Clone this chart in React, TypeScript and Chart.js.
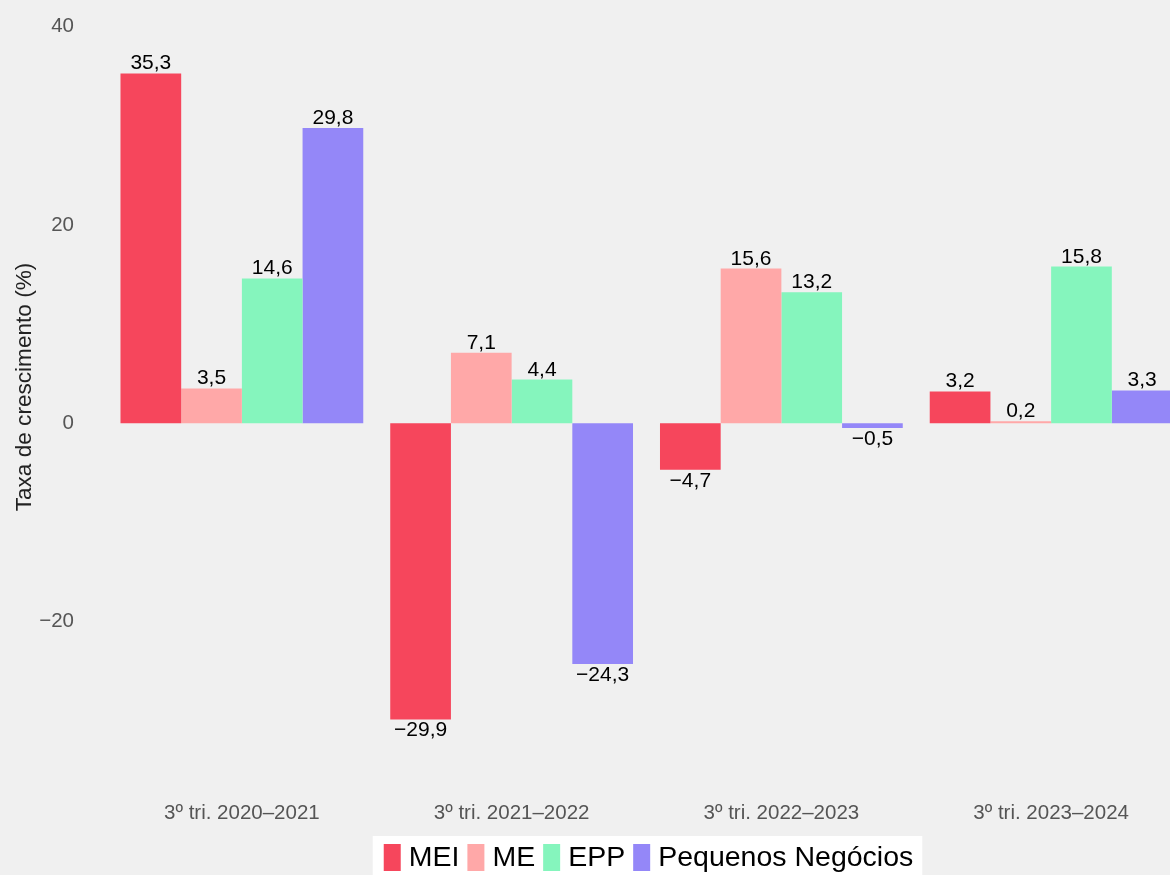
import React, { useEffect, useRef } from 'react';
import { Chart, registerables } from 'chart.js';

Chart.register(...registerables);

const FONT = "'Liberation Sans', Arial, Helvetica, sans-serif";

const categories = ['3º tri. 2020–2021', '3º tri. 2021–2022', '3º tri. 2022–2023', '3º tri. 2023–2024'];
const seriesNames = ['MEI', 'ME', 'EPP', 'Pequenos Negócios'];
const meiValues = [35.3, -29.9, -4.7, 3.2];
const meValues = [3.5, 7.1, 15.6, 0.2];
const eppValues = [14.6, 4.4, 13.2, 15.8];
const pequenosValues = [29.8, -24.3, -0.5, 3.3];
const seriesColors = ['#F6465C', '#FFA8A8', '#85F5BD', '#9487F8'];
const yTickValues = [-20, 0, 20, 40];
const yTitle = 'Taxa de crescimento (%)';

const fmt = (v: number) => v.toFixed(1).replace('.', ',').replace('-', '\u2212');
const fmtTick = (v: number) => String(v).replace('-', '\u2212');

const bgPlugin = {
  id: 'bg',
  beforeDraw(chart: any) {
    const { ctx, width, height } = chart;
    ctx.save();
    ctx.fillStyle = '#F0F0F0';
    ctx.fillRect(0, 0, width, height);
    ctx.restore();
  },
};

const labelPlugin = {
  id: 'valueLabels',
  afterDatasetsDraw(chart: any) {
    const { ctx } = chart;
    const size = 21;
    ctx.save();
    ctx.font = `${size}px ${FONT}`;
    ctx.fillStyle = '#000';
    ctx.textAlign = 'center';
    ctx.textBaseline = 'alphabetic';
    chart.data.datasets.forEach((ds: any, di: number) => {
      const meta = chart.getDatasetMeta(di);
      meta.data.forEach((bar: any, i: number) => {
        const v = ds.data[i] as number;
        const y = v >= 0 ? bar.y - 4 : bar.y + 2 + size * 0.716;
        ctx.fillText(fmt(v), bar.x, y);
      });
    });
    ctx.restore();
  },
};

const legendPlugin = {
  id: 'customLegend',
  afterDraw(chart: any) {
    const { ctx } = chart;
    const size = 28.5;
    ctx.save();
    ctx.font = `${size}px ${FONT}`;
    const boxW = 17;
    const boxH = 27;
    const gapBoxText = 8;
    const gapItems = 8;
    const padL = 11;
    const padR = 9;
    const widths = seriesNames.map((n) => ctx.measureText(n).width);
    let total = padL + padR;
    widths.forEach((w, i) => {
      total += boxW + gapBoxText + w + (i > 0 ? gapItems : 0);
    });
    const center = 647.5;
    const left = center - total / 2;
    const top = 836;
    ctx.fillStyle = '#FFFFFF';
    ctx.fillRect(left, top, total, 60);
    let x = left + padL;
    const cy = 857.5;
    ctx.textBaseline = 'middle';
    ctx.textAlign = 'left';
    seriesNames.forEach((n, i) => {
      ctx.fillStyle = seriesColors[i];
      ctx.fillRect(x, cy - boxH / 2, boxW, boxH);
      x += boxW + gapBoxText;
      ctx.fillStyle = '#000';
      ctx.fillText(n, x, cy + 1);
      x += widths[i] + gapItems;
    });
    ctx.restore();
  },
};

export default function App() {
  const ref = useRef<HTMLCanvasElement | null>(null);

  useEffect(() => {
    if (!ref.current) return;
    Chart.defaults.font.family = FONT;
    const values = [meiValues, meValues, eppValues, pequenosValues];
    const chart = new Chart(ref.current, {
      type: 'bar',
      data: {
        labels: categories,
        datasets: seriesNames.map((name, i) => ({
          label: name,
          data: values[i],
          backgroundColor: seriesColors[i],
          borderWidth: 0,
          barPercentage: 1,
          categoryPercentage: 0.9,
        })),
      },
      options: {
        responsive: false,
        animation: false,
        devicePixelRatio: 1,
        layout: { padding: { top: 7, right: 4, left: 0, bottom: 0 } },
        plugins: {
          legend: { display: false },
          tooltip: { enabled: false },
        },
        scales: {
          x: {
            type: 'category',
            offset: true,
            grid: { display: false, drawTicks: false },
            border: { display: false },
            ticks: {
              color: '#555555',
              font: { size: 20.5, family: FONT },
              padding: 34,
              maxRotation: 0,
              autoSkip: false,
            },
            afterFit: (s: any) => {
              s.height = 108;
              s.paddingLeft = 0;
              s.paddingRight = 0;
            },
          },
          y: {
            min: -34.7,
            max: 42,
            grid: { display: false, drawTicks: false },
            border: { display: false },
            afterBuildTicks: (s: any) => {
              s.ticks = yTickValues.map((v) => ({ value: v }));
            },
            ticks: {
              color: '#555555',
              font: { size: 20.5, family: FONT },
              padding: 33,
              callback: (v: any) => fmtTick(Number(v)),
            },
            title: {
              display: true,
              text: yTitle,
              color: '#222222',
              font: { size: 22.6, family: FONT },
              padding: { top: 11, bottom: 0 },
            },
            afterFit: (s: any) => {
              s.width = 107;
              s.paddingTop = 0;
              s.paddingBottom = 0;
            },
          },
        },
      },
      plugins: [bgPlugin, labelPlugin, legendPlugin],
    } as any);
    return () => chart.destroy();
  }, []);

  return (
    <div
      style={{
        position: 'fixed',
        left: 0,
        top: 0,
        width: 1170,
        height: 875,
        overflow: 'hidden',
        background: '#F0F0F0',
      }}
    >
      <canvas ref={ref} width={1190} height={875} style={{ display: 'block', width: 1190, height: 875 }} />
    </div>
  );
}
